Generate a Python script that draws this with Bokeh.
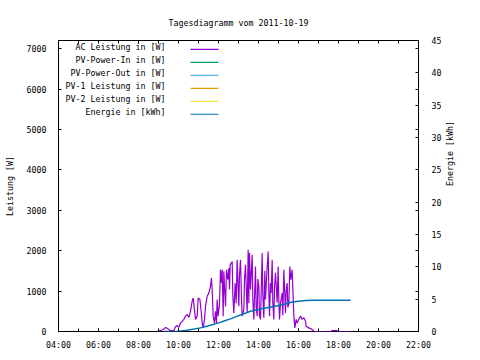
import math
from bokeh.plotting import figure
from bokeh.models import Range1d, LinearAxis, FixedTicker, Label
from bokeh.embed import file_html
from bokeh.resources import INLINE

# ---------------- data ----------------
title_text = "Tagesdiagramm vom 2011-10-19"
x_tick_hours = [4, 6, 8, 10, 12, 14, 16, 18, 20, 22]
x_tick_labels = ["04:00", "06:00", "08:00", "10:00", "12:00", "14:00",
                 "16:00", "18:00", "20:00", "22:00"]
x_minor_hours = list(range(4, 23))
power_ticks = [0, 1000, 2000, 3000, 4000, 5000, 6000, 7000]
energy_ticks = [0, 5, 10, 15, 20, 25, 30, 35, 40, 45]

series_names = ["AC Leistung in [W]", "PV-Power-In in [W]", "PV-Power-Out in [W]",
                "PV-1 Leistung in [W]", "PV-2 Leistung in [W]", "Energie in [kWh]"]
series_colors = ["#9400D3", "#009E73", "#56B4E9", "#E69F00", "#F0E442", "#0072B2"]

ac_time = ["08:56", "09:06", "09:16", "09:21", "09:26", "09:31", "09:36", "09:46", "09:51", "09:56",
           "10:01", "10:06", "10:11", "10:16", "10:21", "10:26", "10:31", "10:36", "10:41", "10:44",
           "10:48", "10:51", "10:56", "10:59", "11:04", "11:08", "11:11", "11:14", "11:18", "11:21",
           "11:26", "11:31", "11:36", "11:39", "11:41", "11:44", "11:48", "11:51", "11:54", "11:56",
           "11:59", "12:03", "12:06", "12:09", "12:11", "12:14", "12:16", "12:21", "12:24", "12:28",
           "12:31", "12:33", "12:35", "12:38", "12:41", "12:43", "12:46", "12:50", "12:53", "12:56",
           "13:01", "13:03", "13:06", "13:09", "13:11", "13:16", "13:18", "13:21", "13:24", "13:26",
           "13:29", "13:31", "13:33", "13:36", "13:41", "13:43", "13:46", "13:51", "13:53", "13:56",
           "13:58", "14:01", "14:03", "14:06", "14:11", "14:13", "14:16", "14:19", "14:21", "14:26",
           "14:29", "14:31", "14:33", "14:36", "14:38", "14:41", "14:43", "14:46", "14:48", "14:51",
           "14:56", "14:59", "15:01", "15:03", "15:06", "15:11", "15:13", "15:16", "15:21", "15:23",
           "15:26", "15:28", "15:31", "15:34", "15:37", "15:41", "15:46", "15:49", "15:53", "15:56",
           "16:01", "16:06", "16:11", "16:16", "16:18", "16:21", "16:23", "16:31", "16:38", "16:44",
           "16:46", "17:38", "17:40", "17:55", "17:57", "18:36"]
ac_power = [0, 20, 60, 100, 80, 50, 25, 25, 120, 150,
            100, 210, 250, 300, 380, 420, 350, 500, 750, 830,
            540, 300, 380, 830, 800, 500, 210, 90, 300, 620,
            870, 950, 1120, 1320, 1040, 380, 210, 500, 210, 790,
            380, 670, 1530, 1200, 1530, 380, 1490, 620, 1530, 1280,
            1570, 1040, 1650, 1690, 1730, 900, 460, 1200, 700, 1775,
            625, 1400, 1775, 800, 380, 540, 1300, 1650, 900, 460,
            2020, 700, 1940, 1040, 1900, 800, 300, 1610, 600, 380,
            1300, 1120, 400, 300, 1940, 900, 340, 1500, 790, 1610,
            1980, 1000, 380, 1200, 950, 1775, 700, 300, 1100, 1450,
            710, 1610, 800, 300, 700, 950, 400, 1530, 460, 1000,
            1200, 600, 670, 1610, 1280, 1530, 380, 90, 300, 210,
            300, 380, 300, 340, 310, 250, 130, 90, 65, 25,
            0, 0, 25, 25, 0, 0]

energy_time = ["09:16", "10:00", "10:26", "11:06", "11:36", "12:01", "12:21", "12:36",
               "12:51", "13:36", "14:21", "15:06", "15:41", "16:21", "16:46", "18:36"]
energy_kwh = [0.0, 0.05, 0.2, 0.56, 0.97, 1.33, 1.7, 1.95,
              2.26, 3.13, 3.65, 4.05, 4.57, 4.78, 4.85, 4.85]


def to_hours(ts):
    return [int(t[:2]) + int(t[3:]) / 60.0 for t in ts]


# ---------------- style / layout ----------------
FONT = "DejaVu Sans Mono"
FS = "8.3px"
X0, X1 = 4, 22
Y0, Y1 = 0, 7200
E0, E1 = 0, 45
FRAME_W, FRAME_H = 360, 292

p = figure(width=472, height=352, output_backend="svg", toolbar_location=None,
           x_range=Range1d(X0, X1), y_range=Range1d(Y0, Y1),
           min_border_left=58, min_border_right=54, min_border_top=40, min_border_bottom=20,
           background_fill_color="white", border_fill_color="white")
p.extra_y_ranges = {"energy": Range1d(E0, E1)}
p.grid.visible = False
p.outline_line_color = "black"
p.outline_line_width = 1

px_x = (X1 - X0) / FRAME_W
px_y = (Y1 - Y0) / FRAME_H

p.title.text = title_text
p.title.align = "center"
p.title.text_font = FONT
p.title.text_font_size = FS
p.title.text_font_style = "normal"
p.title.text_color = "black"
p.title.standoff = 26


def style_axis(ax):
    ax.axis_line_color = None
    ax.major_tick_in = 3
    ax.major_tick_out = 0
    ax.minor_tick_in = 3
    ax.minor_tick_out = 0
    ax.major_tick_line_color = "black"
    ax.minor_tick_line_color = "black"
    ax.major_label_text_font = FONT
    ax.major_label_text_font_size = FS
    ax.major_label_text_color = "black"
    ax.axis_label_text_font = FONT
    ax.axis_label_text_font_size = FS
    ax.axis_label_text_font_style = "normal"
    ax.axis_label_text_color = "black"


# bottom x axis
xa = p.xaxis[0]
style_axis(xa)
xa.ticker = FixedTicker(ticks=x_tick_hours, minor_ticks=x_minor_hours)
xa.major_label_overrides = {h: lab for h, lab in zip(x_tick_hours, x_tick_labels)}
xa.major_label_standoff = 8

# left y axis
ya = p.yaxis[0]
style_axis(ya)
ya.ticker = FixedTicker(ticks=power_ticks, minor_ticks=[])
ya.major_label_standoff = 12
ya.axis_label = "Leistung [W]"
ya.axis_label_standoff = 9

# top mirror x ticks
ta = LinearAxis(ticker=FixedTicker(ticks=x_minor_hours, minor_ticks=[]))
style_axis(ta)
ta.major_label_text_font_size = "0px"
ta.major_label_standoff = 0
p.add_layout(ta, "above")

# right energy axis (also carries mirrored power ticks)
mirror = [v * (E1 - E0) / (Y1 - Y0) for v in power_ticks]
all_right = sorted(set(energy_ticks + mirror))
ra = LinearAxis(y_range_name="energy", ticker=FixedTicker(ticks=all_right, minor_ticks=[]))
style_axis(ra)
ra.major_label_overrides = {t: (str(int(t)) if t in energy_ticks else "") for t in all_right}
ra.major_label_standoff = 13
ra.axis_label = "Energie [kWh]"
ra.axis_label_standoff = 6
if "axis_label_orientation" in ra.properties():
    ra.axis_label_orientation = math.pi / 2
p.add_layout(ra, "right")

# ---------------- series ----------------
p.line(to_hours(ac_time), ac_power, line_color=series_colors[0], line_width=1.2)
p.line(to_hours(energy_time), energy_kwh, y_range_name="energy",
       line_color=series_colors[5], line_width=1.5)

# ---------------- gnuplot-style key (text right-aligned, sample to the right) ----------------
key_text_x = X0 + 107 * px_x
key_x0 = X0 + 132 * px_x
key_x1 = X0 + 160 * px_x
rows_line_y = [Y1 - (9 + 13 * i) * px_y for i in range(len(series_names))]
rows_text_y = [Y1 - (7 + 13 * i) * px_y for i in range(len(series_names))]

p.segment(x0=[key_x0] * len(series_names), x1=[key_x1] * len(series_names),
          y0=rows_line_y, y1=rows_line_y, line_color=series_colors, line_width=1.2)
for name, ty in zip(series_names, rows_text_y):
    p.add_layout(Label(x=key_text_x, y=ty, text=name, text_align="right",
                       text_baseline="middle", text_font=FONT, text_font_size=FS,
                       text_color="black"))

open("out.html", "w").write(file_html(p, INLINE))
